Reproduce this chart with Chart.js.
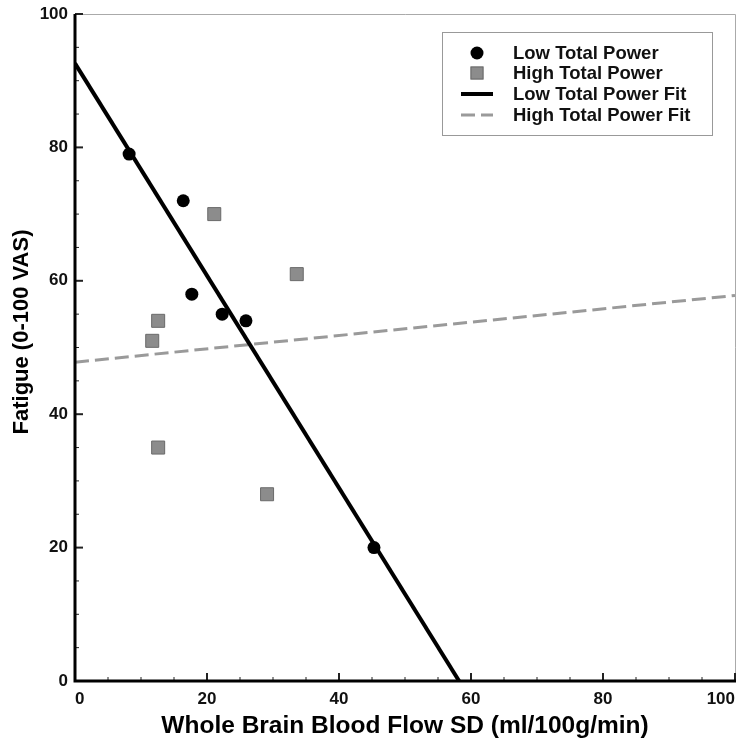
<!DOCTYPE html>
<html><head><meta charset="utf-8">
<script src="https://cdn.jsdelivr.net/npm/chart.js@4.4.1/dist/chart.umd.min.js"></script>
<style>html,body{margin:0;padding:0;background:#fff}#wrap{width:748px;height:748px}</style>
</head><body><div id="wrap"><canvas id="c" width="748" height="748"></canvas></div>
<script>
const lowX = [8.2, 16.4, 17.7, 22.3, 25.9, 45.3];
const lowY = [79, 72, 58, 55, 54, 20];
const highX = [21.1, 33.6, 12.6, 11.7, 12.6, 29.1];
const highY = [70, 61, 54, 51, 35, 28];
const lowFitX = [0, 58.2];
const lowFitY = [92.6, 0];
const highFitX = [0, 100];
const highFitY = [47.8, 57.8];
const xTicks = [0, 20, 40, 60, 80, 100];
const yTicks = [0, 20, 40, 60, 80, 100];
const seriesNames = ['Low Total Power', 'High Total Power', 'Low Total Power Fit', 'High Total Power Fit'];
const xTitle = 'Whole Brain Blood Flow SD (ml/100g/min)';
const yTitle = 'Fatigue (0-100 VAS)';

const pts = (xs, ys) => xs.map((x, i) => ({x, y: ys[i]}));
const FONT = '"Liberation Sans", Arial, sans-serif';

const framePlugin = {
  id: 'frame',
  afterDatasetsDraw(chart) {
    const {ctx, chartArea: a, scales} = chart;
    ctx.save();
    ctx.strokeStyle = '#aaa'; ctx.lineWidth = 1;
    ctx.beginPath();
    ctx.moveTo(a.left, a.top + 0.5); ctx.lineTo(a.right + 0.5, a.top + 0.5); ctx.lineTo(a.right + 0.5, a.bottom);
    ctx.stroke();
    ctx.strokeStyle = '#222';
    for (let v = 0; v <= 100; v += 5) {
      const major = v % 20 === 0;
      const len = major ? 8 : 4;
      ctx.lineWidth = major ? 2 : 1;
      const px = scales.x.getPixelForValue(v);
      ctx.beginPath(); ctx.moveTo(px, a.bottom); ctx.lineTo(px, a.bottom - len); ctx.stroke();
      const py = scales.y.getPixelForValue(v);
      ctx.beginPath(); ctx.moveTo(a.left, py); ctx.lineTo(a.left + len, py); ctx.stroke();
    }
    ctx.strokeStyle = '#000'; ctx.lineWidth = 3;
    ctx.beginPath();
    ctx.moveTo(a.left, a.top); ctx.lineTo(a.left, a.bottom); ctx.lineTo(a.right + 1, a.bottom);
    ctx.stroke();
    ctx.restore();
  },
  afterDraw(chart) {
    const {ctx} = chart;
    const ds = chart.data.datasets;
    ctx.save();
    ctx.translate(22, 332);
    ctx.rotate(-Math.PI / 2);
    ctx.font = 'bold 22px ' + FONT;
    ctx.textAlign = 'center'; ctx.textBaseline = 'middle';
    ctx.fillStyle = '#000';
    ctx.fillText(yTitle, 0, 0);
    ctx.restore();

    ctx.save();
    const bx = 442, by = 32, bw = 270, bh = 103;
    ctx.fillStyle = '#fff'; ctx.fillRect(bx, by, bw, bh);
    ctx.strokeStyle = '#999'; ctx.lineWidth = 1;
    ctx.strokeRect(bx + 0.5, by + 0.5, bw, bh);
    ctx.font = 'bold 18.5px ' + FONT;
    ctx.textBaseline = 'middle';
    const rows = [53, 73, 94, 115];
    const mx = 477;
    ds.forEach((d, i) => {
      const y = rows[i];
      if (i === 0) {
        ctx.fillStyle = d.backgroundColor;
        ctx.beginPath(); ctx.arc(mx, y, 6.5, 0, Math.PI * 2); ctx.fill();
      } else if (i === 1) {
        ctx.fillStyle = d.backgroundColor; ctx.strokeStyle = d.borderColor; ctx.lineWidth = 1;
        ctx.fillRect(mx - 6.5, y - 6.5, 13, 13); ctx.strokeRect(mx - 6, y - 6, 12, 12);
      } else {
        ctx.strokeStyle = d.borderColor; ctx.lineWidth = d.borderWidth;
        ctx.setLineDash(d.borderDash || []);
        ctx.beginPath(); ctx.moveTo(mx - 16, y); ctx.lineTo(mx + 16, y); ctx.stroke();
        ctx.setLineDash([]);
      }
      ctx.fillStyle = '#111';
      ctx.fillText(d.label, 513, y + 1);
    });
    ctx.restore();
  }
};

new Chart(document.getElementById('c'), {
  type: 'scatter',
  data: {
    datasets: [
      {label: seriesNames[0], data: pts(lowX, lowY), backgroundColor: '#000', borderColor: '#000',
       pointStyle: 'circle', pointRadius: 6.5, pointBorderWidth: 0, order: 1},
      {label: seriesNames[1], data: pts(highX, highY), backgroundColor: '#8c8c8c', borderColor: '#6a6a6a',
       pointStyle: 'rect', pointRadius: 9.2, pointBorderWidth: 1, order: 2},
      {label: seriesNames[2], type: 'line', data: pts(lowFitX, lowFitY), borderColor: '#000', borderWidth: 4,
       pointRadius: 0, showLine: true, fill: false, order: 3},
      {label: seriesNames[3], type: 'line', data: pts(highFitX, highFitY), borderColor: '#9a9a9a', borderWidth: 3,
       borderDash: [14, 6], pointRadius: 0, showLine: true, fill: false, order: 4}
    ]
  },
  options: {
    responsive: false,
    animation: false,
    devicePixelRatio: 1,
    layout: {autoPadding: false, padding: {top: 14, right: 13, left: 0, bottom: 0}},
    plugins: {legend: {display: false}, tooltip: {enabled: false}},
    scales: {
      x: {
        type: 'linear', min: 0, max: 100,
        afterFit(s) { s.height = 67; s.paddingLeft = 0; s.paddingRight = 0; },
        afterBuildTicks(s) { s.ticks = xTicks.map(v => ({value: v})); },
        grid: {display: false, drawTicks: false},
        border: {display: false},
        ticks: {color: '#111', font: {family: FONT, size: 17, weight: 'bold'}, padding: 8, maxRotation: 0, align: 'inner'},
        title: {display: true, text: xTitle, color: '#000', font: {family: FONT, size: 24.5, weight: 'bold'}, padding: {top: 0, bottom: 7}}
      },
      y: {
        type: 'linear', min: 0, max: 100,
        afterFit(s) { s.width = 75; s.paddingTop = 0; s.paddingBottom = 0; },
        afterBuildTicks(s) { s.ticks = yTicks.map(v => ({value: v})); },
        grid: {display: false, drawTicks: false},
        border: {display: false},
        ticks: {color: '#111', font: {family: FONT, size: 17, weight: 'bold'}, padding: 7},
        title: {display: false}
      }
    }
  },
  plugins: [framePlugin]
});
</script>
</body></html>
